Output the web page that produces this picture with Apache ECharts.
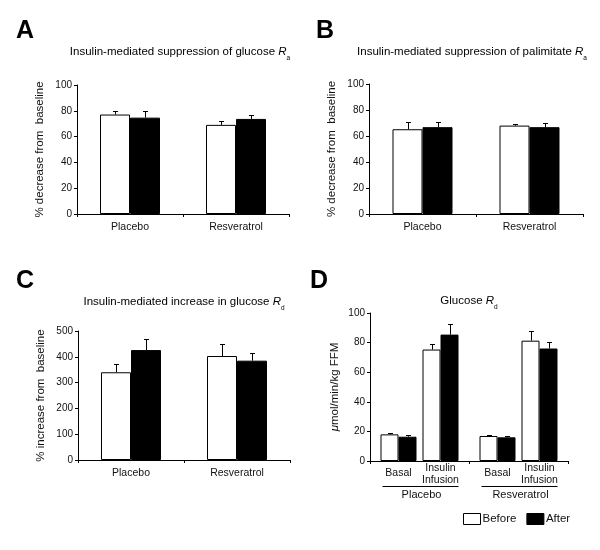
<!DOCTYPE html>
<html>
<head>
<meta charset="utf-8">
<script src="https://cdn.jsdelivr.net/npm/echarts@6/dist/echarts.min.js"></script>
<style>html,body{margin:0;padding:0;background:#fff}#c{width:600px;height:550px}</style>
</head>
<body>
<div id="c"></div>
<script>
// ---- data ----
const categories = ['Placebo', 'Resveratrol'];
// Panel A: % decrease from baseline (glucose Ra)
const aBefore = [77.1, 69.1];
const aBeforeErr = [3.1, 3.1];
const aAfter = [74.7, 73.7];
const aAfterErr = [5.5, 3.4];
// Panel B: % decrease from baseline (palmitate Ra)
const bBefore = [65.2, 68.0];
const bBeforeErr = [5.9, 1.6];
const bAfter = [66.8, 66.8];
const bAfterErr = [4.3, 3.3];
// Panel C: % increase from baseline (glucose Rd)
const cBefore = [340, 403];
const cBeforeErr = [31, 45];
const cAfter = [426, 385];
const cAfterErr = [43, 29];
// Panel D: glucose Rd, umol/min/kg FFM
const dBasalBefore = [18.0, 16.9];
const dBasalBeforeErr = [0.7, 0.6];
const dBasalAfter = [16.4, 16.0];
const dBasalAfterErr = [0.9, 0.6];
const dInsulinBefore = [75.3, 81.3];
const dInsulinBeforeErr = [3.6, 6.3];
const dInsulinAfter = [85.4, 76.0];
const dInsulinAfterErr = [7.0, 4.4];
const dSubLabels = ['Basal', 'Insulin\nInfusion'];
// axis ranges
const pctMax = 100, pctStep = 20;
const incMax = 500, incStep = 100;
const dMax = 100, dStep = 20;

// ---- styles ----
const FONT = '"Liberation Sans", Arial, Helvetica, sans-serif';
const INK = '#111';
const WHITE_BAR = {color: '#fff', borderColor: '#000', borderWidth: 1};
const BLACK_BAR = {color: '#000', borderColor: '#000', borderWidth: 1};

const grids = [
  {left: 77, top: 85, width: 212, height: 129},
  {left: 369, top: 84, width: 214, height: 130},
  {left: 78, top: 331, width: 212, height: 129},
  {left: 370, top: 313, width: 198, height: 148}
];

function xAxis(i, showLabel) {
  return {
    type: 'category', gridIndex: i, data: categories,
    axisLine: {lineStyle: {color: '#000', width: 1}},
    axisTick: {show: true, length: 3, lineStyle: {color: '#000'}},
    axisLabel: {show: showLabel, fontFamily: FONT, fontSize: 10.5, color: INK, margin: 8}
  };
}
function yAxis(i, max, step, name, gap, rich) {
  return {
    type: 'value', gridIndex: i, min: 0, max: max, interval: step,
    name: name, nameLocation: 'middle', nameGap: gap,
    nameTextStyle: {fontFamily: FONT, fontSize: 11.5, color: INK, rich: rich || {}},
    axisLine: {show: true, lineStyle: {color: '#000', width: 1}},
    axisTick: {show: true, length: 3, lineStyle: {color: '#000'}},
    axisLabel: {fontFamily: FONT, fontSize: 10, color: INK, margin: 5},
    splitLine: {show: false}
  };
}
function bar(i, name, data, style, width) {
  return {
    type: 'bar', name: name, xAxisIndex: i, yAxisIndex: i, data: data,
    barWidth: width, barGap: '0%', itemStyle: style, silent: true, z: 2
  };
}
function err(i, values, errs, offset) {
  return {
    type: 'custom', xAxisIndex: i, yAxisIndex: i, silent: true, z: 5,
    encode: {x: 0, y: 1},
    data: values.map((v, k) => [k, v, errs[k]]),
    renderItem: function (params, api) {
      const c = api.value(0), m = api.value(1), e = api.value(2);
      const p0 = api.coord([c, m]);
      const p1 = api.coord([c, m + e]);
      const x = Math.round(p0[0] + offset) + 0.5;
      const yt = Math.round(p1[1]) + 0.5;
      return {type: 'group', children: [
        {type: 'line', shape: {x1: x, y1: p0[1], x2: x, y2: yt}, style: {stroke: '#000', lineWidth: 1}},
        {type: 'line', shape: {x1: x - 2.5, y1: yt, x2: x + 2.5, y2: yt}, style: {stroke: '#000', lineWidth: 1}}
      ]};
    }
  };
}

const titleRich = {
  n: {fontFamily: FONT, fontSize: 11.5, color: INK, lineHeight: 14},
  r: {fontFamily: FONT, fontSize: 11.5, fontStyle: 'italic', color: INK, lineHeight: 14},
  s: {fontFamily: FONT, fontSize: 6.5, color: INK, verticalAlign: 'bottom', lineHeight: 14, padding: [0, 0, -3, 0]}
};
function titleText(x, y, txt) {
  return {type: 'text', x: x, y: y, silent: true,
    style: {text: txt, rich: titleRich, align: 'center', verticalAlign: 'middle'}};
}
function letter(x, y, t) {
  return {type: 'text', x: x, y: y, silent: true,
    style: {text: t, fontFamily: FONT, fontSize: 25, fontWeight: 'bold', fill: '#000', align: 'left', verticalAlign: 'top'}};
}

const option = {
  animation: false,
  backgroundColor: '#fff',
  grid: grids,
  xAxis: [xAxis(0, true), xAxis(1, true), xAxis(2, true), xAxis(3, false)],
  yAxis: [
    yAxis(0, pctMax, pctStep, '% decrease from  baseline', 31),
    yAxis(1, pctMax, pctStep, '% decrease from  baseline', 31),
    yAxis(2, incMax, incStep, '% increase from  baseline', 31),
    yAxis(3, dMax, dStep, '{i|\u03bc}mol/min/kg FFM', 29,
      {i: {fontFamily: FONT, fontSize: 11.5, fontStyle: 'italic', color: INK}})
  ],
  legend: {
    left: 463, top: 513, padding: 0, itemWidth: 17, itemHeight: 11, itemGap: 10,
    icon: 'rect', selectedMode: false,
    textStyle: {fontFamily: FONT, fontSize: 11.5, color: INK, padding: [0, 0, 0, -3]},
    data: [
      {name: 'Before', itemStyle: {color: '#fff', borderColor: '#000', borderWidth: 1}},
      {name: 'After', itemStyle: {color: '#000', borderColor: '#000', borderWidth: 1}}
    ]
  },
  series: [
    bar(0, 'Before', aBefore, WHITE_BAR, 30), bar(0, 'After', aAfter, BLACK_BAR, 30),
    err(0, aBefore, aBeforeErr, -15), err(0, aAfter, aAfterErr, 15),
    bar(1, 'Before', bBefore, WHITE_BAR, 30), bar(1, 'After', bAfter, BLACK_BAR, 30),
    err(1, bBefore, bBeforeErr, -15), err(1, bAfter, bAfterErr, 15),
    bar(2, 'Before', cBefore, WHITE_BAR, 30), bar(2, 'After', cAfter, BLACK_BAR, 30),
    err(2, cBefore, cBeforeErr, -15), err(2, cAfter, cAfterErr, 15),
    bar(3, 'Before', dBasalBefore, WHITE_BAR, 18),
    bar(3, 'After', dBasalAfter, BLACK_BAR, 18),
    bar(3, 'spacer', categories.map(() => 0), {color: 'rgba(0,0,0,0)', borderWidth: 0}, 6),
    bar(3, 'Before', dInsulinBefore, WHITE_BAR, 18),
    bar(3, 'After', dInsulinAfter, BLACK_BAR, 18),
    err(3, dBasalBefore, dBasalBeforeErr, -30), err(3, dBasalAfter, dBasalAfterErr, -12),
    err(3, dInsulinBefore, dInsulinBeforeErr, 12), err(3, dInsulinAfter, dInsulinAfterErr, 30)
  ],
  graphic: [
    letter(16, 19, 'A'), letter(316, 19, 'B'), letter(16, 269, 'C'), letter(310, 269, 'D'),
    titleText(180, 51.5, '{n|Insulin-mediated suppression of glucose }{r|R}{s|a}'),
    titleText(472, 51.5, '{n|Insulin-mediated suppression of palimitate }{r|R}{s|a}'),
    titleText(184, 301.5, '{n|Insulin-mediated increase in glucose }{r|R}{s|d}'),
    titleText(469, 300.5, '{n|Glucose }{r|R}{s|d}')
  ]
};

const chart = echarts.init(document.getElementById('c'), null, {renderer: 'canvas'});
chart.setOption(option);

// group labels under panel D, placed from the axis' own category positions
const extra = [];
categories.forEach((cat, k) => {
  const cx = chart.convertToPixel({xAxisIndex: 3}, cat);
  const lbl = {fontFamily: FONT, fontSize: 10.5, fill: INK, align: 'center', verticalAlign: 'middle', lineHeight: 12};
  extra.push({type: 'text', id: 'sb' + k, x: cx - 21, y: 473, silent: true, style: Object.assign({text: dSubLabels[0]}, lbl)});
  extra.push({type: 'text', id: 'si' + k, x: cx + 21, y: 474, silent: true, style: Object.assign({text: dSubLabels[1]}, lbl)});
  extra.push({type: 'line', id: 'ln' + k, silent: true,
    shape: {x1: cx - 37, y1: 486.5, x2: cx + 39, y2: 486.5}, style: {stroke: '#000', lineWidth: 1}});
  extra.push({type: 'text', id: 'gn' + k, x: cx + 2, y: 494.5, silent: true,
    style: {text: cat, fontFamily: FONT, fontSize: 11, fill: INK, align: 'center', verticalAlign: 'middle'}});
});
chart.setOption({graphic: option.graphic.concat(extra)});
</script>
</body>
</html>
